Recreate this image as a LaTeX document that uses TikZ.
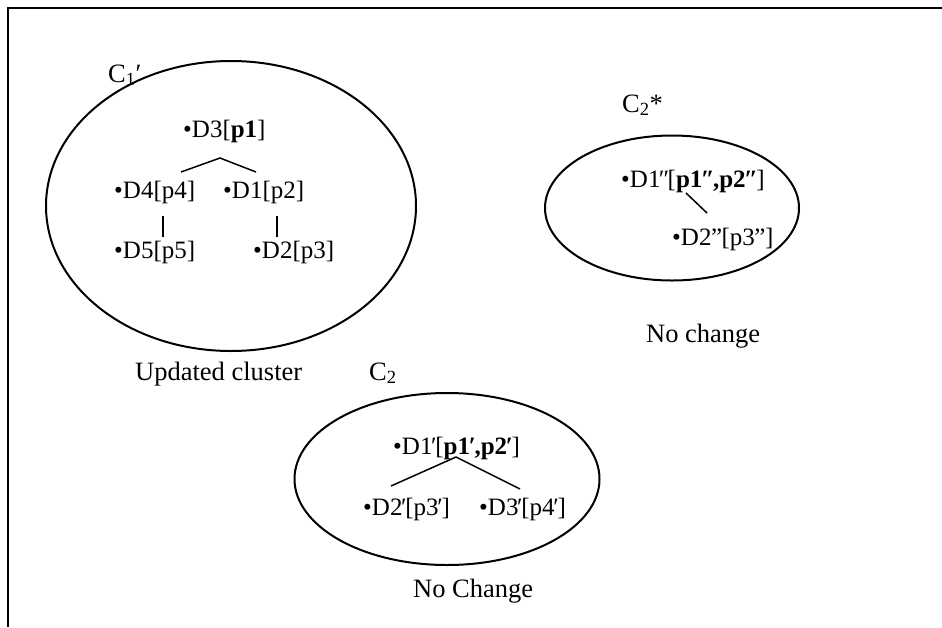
\documentclass[tikz,border=0pt]{standalone}
\usepackage{fontspec}
\setmainfont{Liberation Serif}
\usetikzlibrary{shapes.geometric}
\newcommand{\pp}{\kern-1.3pt′\kern-1.3pt}
\newcommand{\ppp}{\kern-1.6pt″\kern-1.6pt}
\newcommand{\qq}{\kern-0.5pt”\kern-0.5pt}
\begin{document}
\begin{tikzpicture}[x=1pt,y=-1pt,
  txt/.style={anchor=base west, inner sep=0pt, font=\fontsize{26.5}{30}\selectfont},
  tree/.style={anchor=base west, inner sep=0pt, font=\fontsize{25}{30}\selectfont},
  clus/.style={draw, ellipse, line width=2pt, inner sep=0pt},
  link/.style={line width=1.5pt}]
\useasboundingbox (0,0) rectangle (942,627);
% frame
\draw[line width=2pt] (8,627) -- (8,8) -- (942,8);

% clusters
\node[clus, minimum width=370pt, minimum height=290pt] (c1) at (231,206) {};
\node[clus, minimum width=254pt, minimum height=145pt] (c2s) at (672,208) {};
\node[clus, minimum width=305pt, minimum height=172pt] (c2) at (447,479) {};

% labels
\node[txt] (lc1) at (108,82) {C\textsubscript{1}′};
\node[txt] (upd) at (135,380) {Updated cluster};
\node[txt] (lc2) at (369,380) {C\textsubscript{2}};
\node[txt] (lc2s) at (622,112) {C\textsubscript{2}*};
\node[txt] (nc1) at (646,342) {No change};
\node[txt] (nc2) at (413,597) {No Change};

% cluster C1'
\node[tree] (d3) at (183,137) {•D3[\textbf{p1}]};
\node[tree] (d4) at (114,198) {•D4[p4]};
\node[tree] (d1) at (223,198) {•D1[p2]};
\node[tree] (d5) at (114,258) {•D5[p5]};
\node[tree] (d2) at (253,258) {•D2[p3]};
\coordinate (a1) at (220,158);
\coordinate (a1l) at (181,172);
\coordinate (a1r) at (256,172);
\draw[link] (a1l) -- (a1) -- (a1r);
\coordinate (v1t) at (163,216);
\coordinate (v1b) at (163,237);
\draw[link] (v1t) -- (v1b);
\coordinate (v2t) at (277,216);
\coordinate (v2b) at (277,237);
\draw[link] (v2t) -- (v2b);

% cluster C2*
\node[tree] (e1) at (621,187) {•D1\ppp[\textbf{p1\ppp,p2\ppp}]};
\node[tree] (e2) at (672,245) {•D2\qq[p3\qq]};
\coordinate (s1) at (686,193);
\coordinate (s2) at (707,213);
\draw[link] (s1) -- (s2);

% cluster C2
\node[tree] (f1) at (393,454) {•D1\pp[\textbf{p1\pp,p2\pp}]};
\node[tree] (f2) at (363,515) {•D2\pp[p3\pp]};
\node[tree] (f3) at (479,515) {•D3\pp[p4\pp]};
\coordinate (b1) at (456,457);
\coordinate (b1l) at (391,486);
\coordinate (b1r) at (520,489);
\draw[link] (b1l) -- (b1) -- (b1r);
\end{tikzpicture}
\end{document}
